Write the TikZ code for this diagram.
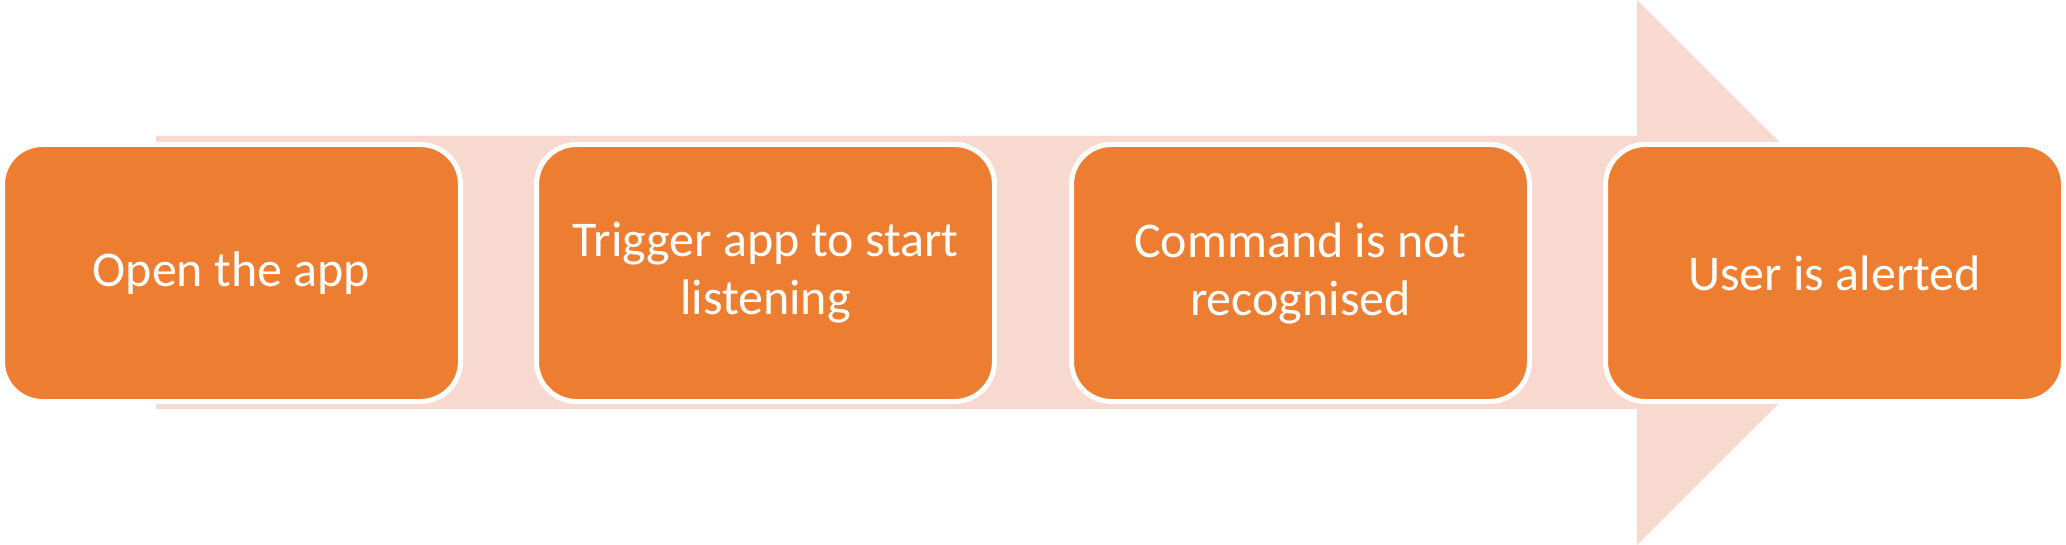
\documentclass[tikz,border=0pt]{standalone}
\usepackage{fontspec}
\setmainfont{Carlito}
\definecolor{pinkarrow}{HTML}{F8D9CF}
\definecolor{orangebox}{HTML}{ED7D31}
\begin{document}
\begin{tikzpicture}[x=0.5pt,y=-0.5pt,
  stepbox/.style={draw=white, line width=2.5pt, fill=orangebox, rounded corners=20pt,
    minimum width=229pt, minimum height=128.5pt, text=white, align=center,
    font=\fontsize{25pt}{29pt}\selectfont, inner sep=0pt}]
\useasboundingbox (0,0) rectangle (2066,545);
% big background arrow
\fill[pinkarrow] (156,136) -- (1637,136) -- (1637,0) -- (1910,272.5) -- (1637,545) -- (1637,409) -- (156,409) -- cycle;
\node[stepbox] (s1) at (231.5,273) {Open the app};
\node[stepbox] (s2) at (765.5,273) {Trigger app to start\\listening};
\node[stepbox] (s3) at (1300.5,273) {Command is not\\recognised};
\node[stepbox] (s4) at (1834.5,273) {User is alerted};
\end{tikzpicture}
\end{document}
